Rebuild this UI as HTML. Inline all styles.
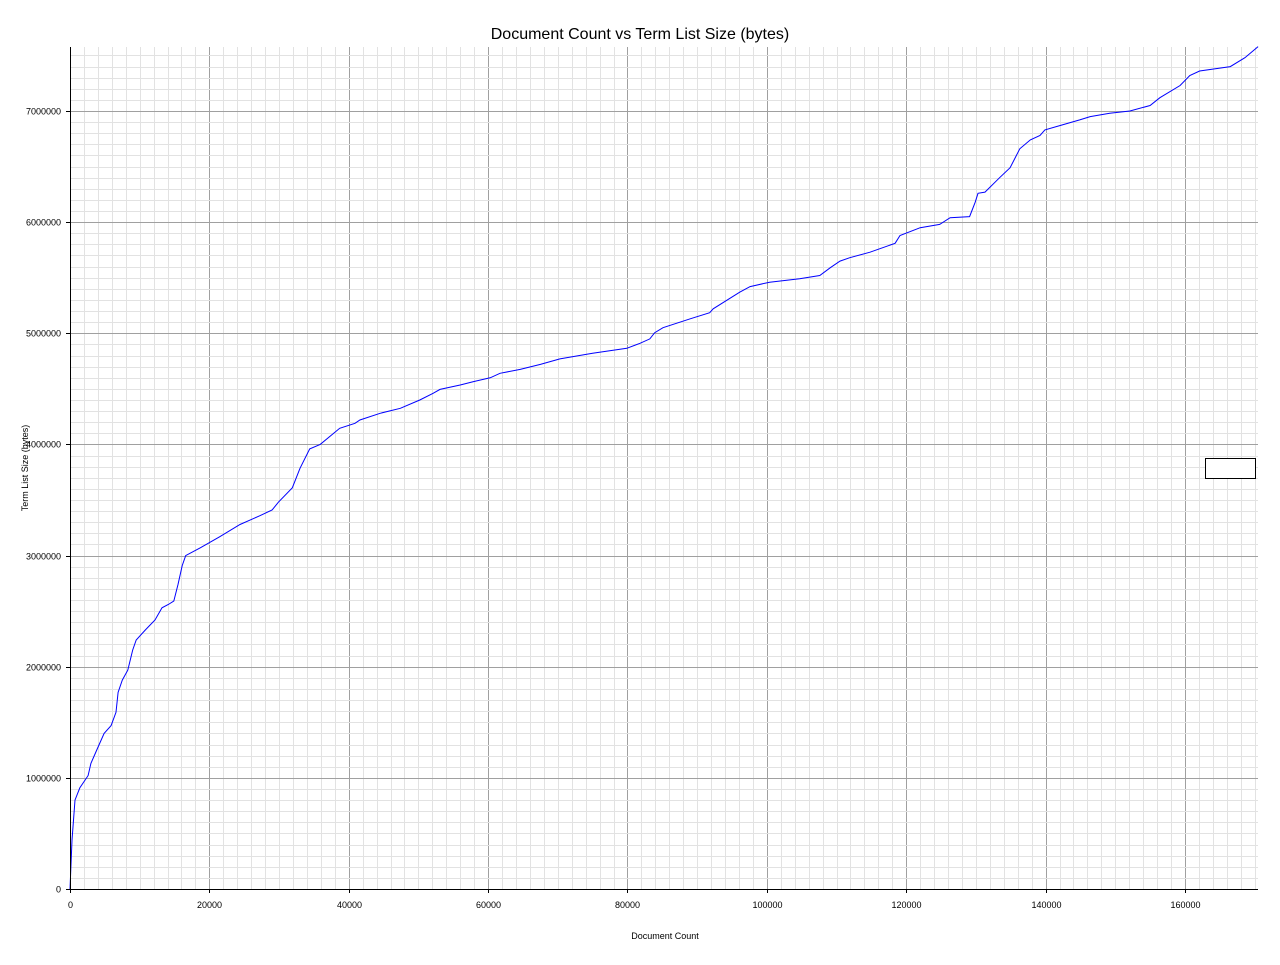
<!DOCTYPE html>
<html><head><meta charset="utf-8"><style>
body{margin:0;background:#fff;font-family:"Liberation Sans",sans-serif}
</style></head><body>
<svg id="chart" width="1280" height="960" xmlns="http://www.w3.org/2000/svg" font-family="Liberation Sans, sans-serif">
<rect width="1280" height="960" fill="#fff"/>
<text x="640" y="39" text-anchor="middle" font-size="16">Document Count vs Term List Size (bytes)</text>
<g id="grid"></g>
<path id="series" fill="none" stroke="#0000ff" stroke-width="1"/>
<g id="axes"></g>
<text x="665" y="939" text-anchor="middle" font-size="9">Document Count</text>
<text transform="translate(28,468) rotate(-90)" text-anchor="middle" font-size="9">Term List Size (bytes)</text>
<rect x="1205.5" y="458.5" width="50" height="20" fill="#fff" stroke="#000"/>
</svg>
<script>
const docCounts=[0,0.29,0.72,1.4,2.6,3.0,3.9,4.9,5.9,6.6,6.9,7.5,8.3,9.0,9.5,10.8,12.2,13.2,14.1,14.9,15.5,16.1,16.6,18.7,21.5,24.4,27.3,29.0,29.9,31.9,33.0,34.4,35.9,38.7,40.9,41.6,44.5,47.4,50.2,52.1,53.1,56.0,57.9,60.3,61.7,64.6,67.5,70.3,75.0,79.9,81.8,83.2,83.9,85.1,89.0,91.8,92.3,96.1,97.6,100.4,104.7,107.6,109.1,110.5,111.9,114.8,118.4,119.1,122.0,124.8,126.3,129.1,129.9,130.3,131.3,133.4,134.9,136.3,137.8,139.2,139.9,142.1,144.9,146.4,149.2,152.1,155.0,156.4,159.3,160.7,162.1,166.5,168.6,170.5];
const sizesM=[0,0.44,0.80,0.91,1.02,1.13,1.26,1.40,1.47,1.59,1.77,1.88,1.97,2.15,2.24,2.33,2.42,2.53,2.56,2.59,2.74,2.91,3.0,3.07,3.17,3.28,3.36,3.41,3.48,3.61,3.785,3.96,4.00,4.145,4.19,4.22,4.28,4.325,4.40,4.46,4.495,4.535,4.565,4.60,4.64,4.675,4.72,4.77,4.82,4.865,4.91,4.95,5.005,5.05,5.13,5.185,5.22,5.37,5.42,5.46,5.49,5.52,5.59,5.65,5.68,5.73,5.81,5.88,5.95,5.98,6.04,6.05,6.18,6.26,6.27,6.40,6.49,6.66,6.74,6.78,6.83,6.87,6.92,6.95,6.98,7.00,7.05,7.12,7.23,7.32,7.36,7.40,7.48,7.58];
const xTicks=[0,20000,40000,60000,80000,100000,120000,140000,160000];
const yTicks=[0,1000000,2000000,3000000,4000000,5000000,6000000,7000000];
const X0=70,X1=1258,Y0=889,Y1=47,XMAX=170480,YMAX=7576000;
const sx=v=>X0+v/XMAX*(X1-X0), sy=v=>Y0-v/YMAX*(Y0-Y1);
const NS="http://www.w3.org/2000/svg";
const grid=document.getElementById('grid'), axes=document.getElementById('axes');
function line(p,x1,y1,x2,y2,c,name){const l=document.createElementNS(NS,'line');
l.setAttribute('x1',x1);l.setAttribute('y1',y1);l.setAttribute('x2',x2);l.setAttribute('y2',y2);l.setAttribute('stroke',c);l.setAttribute('stroke-width',1);


p.appendChild(l);}
for(let v=2000;v<XMAX;v+=2000){const x=Math.round(sx(v))+0.5;line(grid,x,Y1,x,Y0,v%20000?'#e2e2e2':'#a0a0a0','x-gridline');}
for(let v=100000;v<YMAX;v+=100000){const y=Math.round(sy(v))+0.5;line(grid,X0,y,X1,y,v%1000000?'#e2e2e2':'#a0a0a0','y-gridline');}
line(axes,X0+0.5,Y1,X0+0.5,Y0+4,'#000','y-axis');
line(axes,X0-4,Y0+0.5,X1,Y0+0.5,'#000','x-axis');
function txt(x,y,s,anchor,name){const t=document.createElementNS(NS,'text');t.setAttribute('x',x);t.setAttribute('y',y);t.setAttribute('font-size','9');t.setAttribute('text-anchor',anchor);t.textContent=s;


axes.appendChild(t);}
xTicks.forEach(v=>{const x=Math.round(sx(v))+0.5;line(axes,x,Y0,x,Y0+4,'#000','x-tick');txt(x,Y0+19,String(v),'middle','x-tick-label');});
yTicks.forEach(v=>{const y=Math.round(sy(v))+0.5;line(axes,X0-4,y,X0,y,'#000','y-tick');txt(X0-9,y+3,String(v),'end','y-tick-label');});
document.getElementById('series').setAttribute('d',docCounts.map((d,i)=>(i?'L':'M')+sx(d*1000).toFixed(1)+','+sy(sizesM[i]*1e6).toFixed(1)).join(''));
</script>
</body></html>
